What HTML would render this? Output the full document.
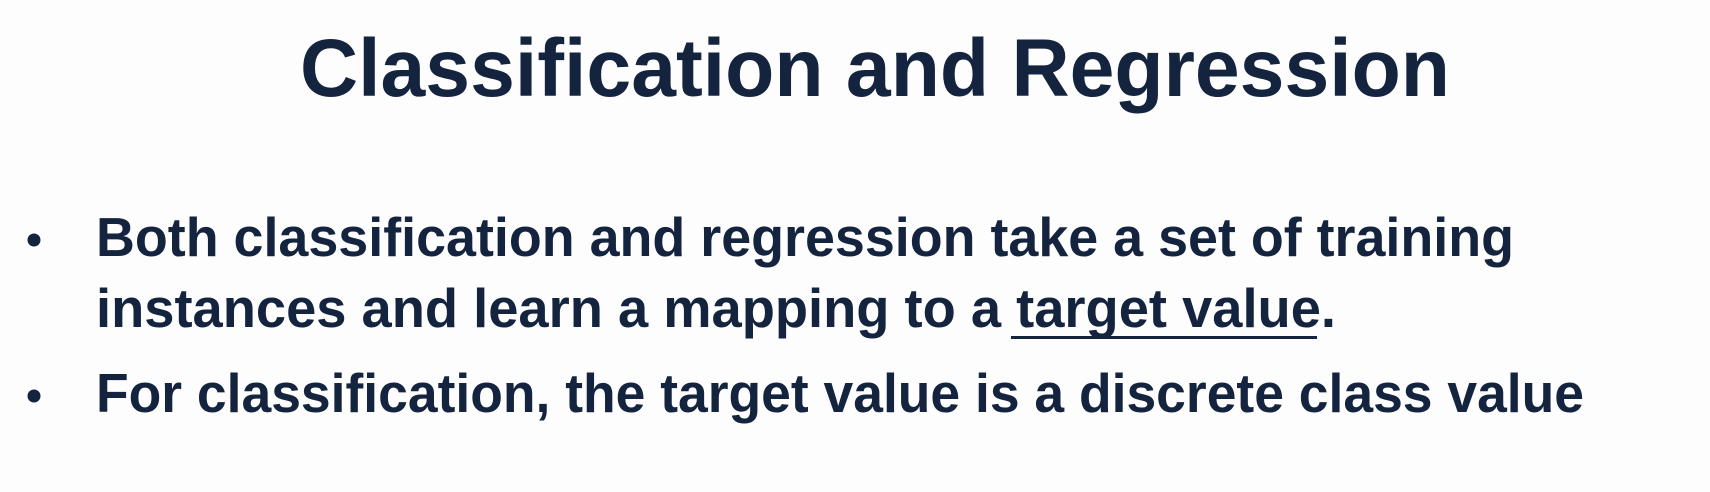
<!DOCTYPE html>
<html><head><meta charset="utf-8"><style>
html,body{margin:0;padding:0;background:#fdfdfd;}
svg{display:block;}
text{font-family:"Liberation Sans",sans-serif;font-weight:bold;fill:#14243f;}
</style></head><body>
<svg width="1710" height="492" viewBox="0 0 1710 492" xmlns="http://www.w3.org/2000/svg">
<rect width="1710" height="492" fill="#fdfdfd"/>
<text x="300" y="96" font-size="82" textLength="1150" lengthAdjust="spacingAndGlyphs">Classification and Regression</text>
<circle cx="34" cy="240" r="6.5" fill="#14243f"/>
<text x="96" y="256" font-size="55" textLength="1418" lengthAdjust="spacingAndGlyphs">Both classification and regression take a set of training</text>
<text x="96" y="327" font-size="55" textLength="1240" lengthAdjust="spacingAndGlyphs">instances and learn a mapping to a target value.</text>
<rect x="1011" y="336" width="306" height="3" fill="#14243f"/>
<circle cx="34" cy="396" r="6.5" fill="#14243f"/>
<text x="96" y="412" font-size="55" textLength="1488" lengthAdjust="spacingAndGlyphs">For classification, the target value is a discrete class value</text>
</svg>
</body></html>
